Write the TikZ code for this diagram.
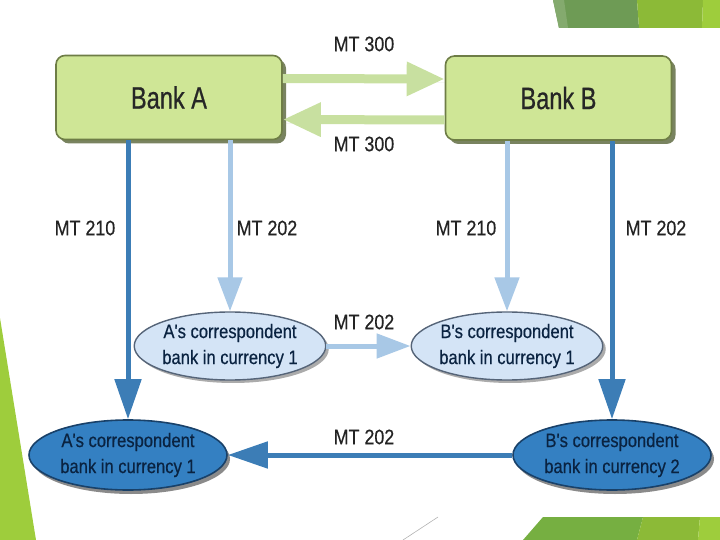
\documentclass[tikz,border=0pt]{standalone}
\usepackage{fontspec}
\setmainfont{Liberation Sans}
\newfontfamily\condfont[FakeStretch=0.85,FakeBold=0.5]{Liberation Sans}
\newfontfamily\bankfont[FakeStretch=0.76,FakeBold=0.6]{Liberation Sans}
\usetikzlibrary{shapes.geometric,arrows.meta,shadows}
\definecolor{bankfill}{RGB}{207,230,150}
\definecolor{bankdraw}{RGB}{110,125,70}
\definecolor{greenarrow}{RGB}{200,224,160}
\definecolor{darkbluefill}{RGB}{52,128,194}
\definecolor{darkbluedraw}{RGB}{25,65,105}
\definecolor{darkbluetext}{RGB}{10,35,65}
\definecolor{lightbluefill}{RGB}{212,228,246}
\definecolor{lightbluedraw}{RGB}{85,100,120}
\definecolor{darkarrow}{RGB}{60,125,182}
\definecolor{lightarrow}{RGB}{168,200,230}
\definecolor{slidedark}{RGB}{110,155,85}
\definecolor{slidemid}{RGB}{118,175,65}
\definecolor{slidelight}{RGB}{140,186,55}
\definecolor{slidebright}{RGB}{158,205,60}
\definecolor{labeltext}{RGB}{35,35,35}
\tikzset{
  bankbox/.style={draw=bankdraw, line width=1.6pt, fill=bankfill, rounded corners=9pt,
    minimum width=226pt, minimum height=84pt, text=black!85,
    font=\bankfont\fontsize{31}{33}\selectfont,
    drop shadow={shadow xshift=4pt, shadow yshift=-4pt, fill=bankdraw!80!black, opacity=0.8}},
  lightell/.style={ellipse, draw=lightbluedraw, line width=1.4pt, fill=lightbluefill,
    minimum width=190pt, minimum height=68pt, inner sep=0pt, align=center, text=darkbluetext,
    font=\condfont\fontsize{19.5}{26}\selectfont,
    drop shadow={shadow xshift=3pt, shadow yshift=-3pt, fill=black!55, opacity=0.6}},
  darkell/.style={ellipse, draw=darkbluedraw, line width=1.6pt, fill=darkbluefill,
    minimum width=198pt, minimum height=70pt, inner sep=0pt, align=center, text=darkbluetext,
    font=\condfont\fontsize{19.5}{26}\selectfont,
    drop shadow={shadow xshift=3pt, shadow yshift=-4pt, fill=black!65, opacity=0.7}},
  msglabel/.style={text=labeltext, font=\condfont\fontsize{21}{22}\selectfont, inner sep=0pt},
  greenarr/.style={draw=greenarrow, line width=9pt,
    -{Triangle[width=32pt,length=38pt]}, fill=greenarrow,
    drop shadow={shadow xshift=0pt, shadow yshift=-4pt, fill=bankdraw!70, opacity=0.7}},
  darkarr/.style={draw=darkarrow, line width=5pt, -{Triangle[width=26pt,length=40pt]}},
  lightarr/.style={draw=lightarrow, line width=5pt, -{Triangle[width=24pt,length=34pt]}},
}
\begin{document}
\begin{tikzpicture}[x=1pt, y=-1pt]
\useasboundingbox (0,0) rectangle (720,540);
% slide decorations
\fill[slidedark] (553,0) -- (559,28) -- (639,28) -- (637,0) -- cycle;
\fill[slidedark!85!white] (553,0) -- (559,28) -- (568,28) -- (564,0) -- cycle;
\fill[slidelight] (637,0) -- (639,28) -- (702,28) -- (703,0) -- cycle;
\fill[slidebright] (703,0) -- (702,28) -- (720,28) -- (720,0) -- cycle;
\fill[slidebright] (0,318) -- (36,540) -- (0,540) -- cycle;
\fill[slidemid] (543,517) -- (523,540) -- (637,540) -- (643,517) -- cycle;
\fill[slidelight] (643,517) -- (637,540) -- (698,540) -- (700,517) -- cycle;
\fill[slidebright] (700,517) -- (698,540) -- (720,540) -- (720,517) -- cycle;
\draw[black!30, line width=0.6pt] (438,517) -- (403,540);

% nodes
\node[bankbox] (bankA) at (169,97.5) {Bank A};
\node[bankbox] (bankB) at (558.5,98) {Bank B};
\node[lightell] (lightA) at (230,346) {A's correspondent\\bank in currency 1};
\node[lightell] (lightB) at (507,346) {B's correspondent\\bank in currency 1};
\node[darkell] (darkA) at (128,455) {A's correspondent\\bank in currency 1};
\node[darkell] (darkB) at (612,455) {B's correspondent\\bank in currency 2};

% connectors
\draw[greenarr] ([yshift=19pt]bankA.east) -- ([yshift=19pt]bankB.west);
\draw[greenarr] ([yshift=-22pt]bankB.west) -- ([yshift=-22pt]bankA.east);
\draw[darkarr] (bankA.south -| darkA.north) -- (darkA.north);
\draw[lightarr] (bankA.south -| lightA.north) -- (lightA.north);
\draw[lightarr] (bankB.south -| lightB.north) -- (lightB.north);
\draw[darkarr] (bankB.south -| darkB.north) -- (darkB.north);
\draw[lightarr] (lightA.east) -- (lightB.west);
\draw[darkarr] (darkB.west) -- (darkA.east);

% labels
\node[msglabel] (l1) at (364,44) {MT 300};
\node[msglabel] (l2) at (364,144) {MT 300};
\node[msglabel] (l3) at (85,228) {MT 210};
\node[msglabel] (l4) at (267,228) {MT 202};
\node[msglabel] (l5) at (466,228) {MT 210};
\node[msglabel] (l6) at (656,228) {MT 202};
\node[msglabel] (l7) at (364,322) {MT 202};
\node[msglabel] (l8) at (364,437) {MT 202};
\end{tikzpicture}
\end{document}
